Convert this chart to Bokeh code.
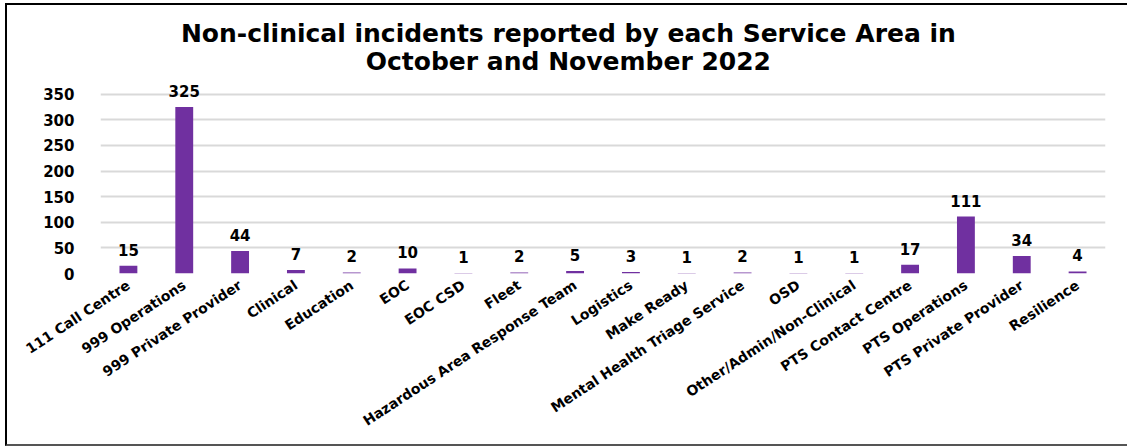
from bokeh.plotting import figure
from bokeh.models import ColumnDataSource, LabelSet, Label, FactorRange, Range1d, FixedTicker
from bokeh.core.properties import value
from bokeh.embed import file_html
from bokeh.resources import INLINE

title_lines = ["Non-clinical incidents reported by each Service Area in",
               "October and November 2022"]
categories = ["111 Call Centre", "999 Operations", "999 Private Provider", "Clinical",
              "Education", "EOC", "EOC CSD", "Fleet", "Hazardous Area Response Team",
              "Logistics", "Make Ready", "Mental Health Triage Service", "OSD",
              "Other/Admin/Non-Clinical", "PTS Contact Centre", "PTS Operations",
              "PTS Private Provider", "Resilience"]
values = [15, 325, 44, 7, 2, 10, 1, 2, 5, 3, 1, 2, 1, 1, 17, 111, 34, 4]
y_ticks = [0, 50, 100, 150, 200, 250, 300, 350]

BAR = "#7030a0"
FONT = "DejaVu Sans"

src = ColumnDataSource(dict(cat=categories, val=values, lab=[str(v) for v in values]))

p = figure(x_range=FactorRange(*categories, range_padding=0), y_range=Range1d(0, 523),
           width=1122, height=443, output_backend="svg", toolbar_location=None,
           min_border_left=93, min_border_right=24, min_border_top=0, min_border_bottom=175,
           margin=(3, 0, 0, 5),
           styles={"border-left": "2px solid #000", "border-top": "2px solid #000",
                   "border-bottom": "2px solid #555"})
p.outline_line_color = None
p.background_fill_color = "white"
p.border_fill_color = "white"

p.vbar(x="cat", top="val", width=0.32, source=src, fill_color=BAR, line_color=None)

p.add_layout(LabelSet(x="cat", y="val", text="lab", source=src, y_offset=10,
                      text_align="center", text_baseline="alphabetic",
                      text_font=value(FONT), text_font_size="15px", text_font_style="bold",
                      text_color="#000"))

p.yaxis.ticker = FixedTicker(ticks=y_ticks)
p.ygrid.ticker = FixedTicker(ticks=y_ticks)
p.ygrid.grid_line_color = "#d9d9d9"
p.ygrid.grid_line_width = 2
p.xgrid.grid_line_color = None

for ax in (p.xaxis, p.yaxis):
    ax.axis_line_color = None
    ax.major_tick_line_color = None
    ax.minor_tick_line_color = None

p.yaxis.major_label_text_font = FONT
p.yaxis.major_label_text_font_size = "15px"
p.yaxis.major_label_text_font_style = "bold"
p.yaxis.major_label_text_color = "#000"
p.yaxis.major_label_standoff = 20

p.xaxis.major_label_orientation = 0.582
p.xaxis.major_label_text_font = FONT
p.xaxis.major_label_text_font_size = "14px"
p.xaxis.major_label_text_font_style = "bold"
p.xaxis.major_label_text_color = "#000"
p.xaxis.major_label_standoff = 4

for txt, yy in zip(title_lines, [468, 413]):
    p.add_layout(Label(x=8.38, y=yy, text=txt, text_align="center", text_baseline="alphabetic",
                       text_font=FONT, text_font_size="25px", text_font_style="bold",
                       text_color="#000"))

open("out.html", "w").write(file_html(p, INLINE))
